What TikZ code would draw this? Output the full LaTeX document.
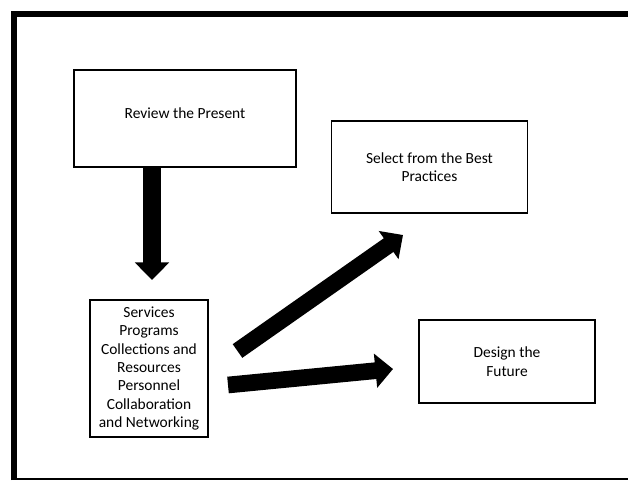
\documentclass[tikz,border=0pt]{standalone}
\usepackage{fontspec}
\setmainfont{Carlito}
\usetikzlibrary{arrows.meta}

\begin{document}
\begin{tikzpicture}[x=0.02cm,y=-0.02cm,line join=miter,
	box/.style={draw,line width=1.1pt,align=center,inner sep=2pt,font=\fontsize{8.8}{10.5}\selectfont},
	blockarrow/.style={line width=#1,-{Triangle[width=19pt,length=10pt]}},
	blockarrow/.default=9.5pt]
	\useasboundingbox (0,0) rectangle (628,480);
	\draw[line width=3.7pt] (14,480)--(14,14)--(628,14);
	\draw[line width=1.2pt] (14,479)--(628,479);
	\node[box,minimum width=4.44cm,minimum height=1.94cm] (review) at (185,118.5) {Review the Present\\[-4pt]\mbox{}};
	\node[box,minimum width=3.92cm,minimum height=1.84cm] (select) at (429.5,167) {Select from the Best\\Practices};
	\node[box,minimum width=3.52cm,minimum height=1.66cm] (design) at (507,361.5) {Design the\\Future};
	\node[box,minimum width=2.36cm,minimum height=2.74cm] (areas) at (149,368.5) {Services\\Programs\\Collections and\\Resources\\Personnel\\Collaboration\\and Networking};
	\coordinate (downtip) at (152,280);
	\coordinate (uptail) at (237.5,351);
	\coordinate (uptip) at (403,235);
	\coordinate (righttail) at (228,385);
	\coordinate (righttip) at (393,369);
	\draw[blockarrow=10.8pt] (review.south -| downtip)--(downtip);
	\draw[blockarrow] (uptail)--(uptip);
	\draw[blockarrow] (righttail)--(righttip);
\end{tikzpicture}
\end{document}
